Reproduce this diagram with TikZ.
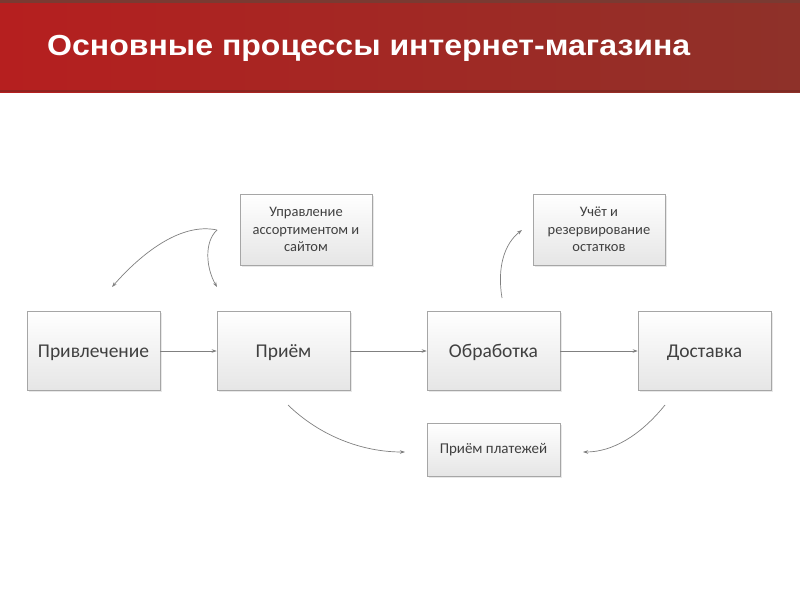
\documentclass[tikz,border=0pt]{standalone}
\usepackage{fontspec}
\setmainfont{Carlito}
\newfontfamily\titlefont{Liberation Sans}
\usetikzlibrary{arrows.meta,shadows}
\definecolor{hdrL}{HTML}{B61F1F}
\definecolor{hdrR}{HTML}{8E3129}
\definecolor{hdrTop}{HTML}{7A3A32}
\definecolor{boxline}{HTML}{A6A6A6}
\definecolor{boxtext}{HTML}{404040}
\definecolor{arr}{HTML}{808080}
\tikzset{
  basebox/.style={draw=boxline, line width=0.6pt, top color=white, bottom color=black!10,
    inner sep=0pt, text=boxtext, align=center,
    drop shadow={shadow xshift=1.5pt, shadow yshift=-1.5pt, opacity=0.18}},
  procbox/.style={basebox, minimum width=133pt, minimum height=79pt,
    font=\fontsize{19.5}{22}\selectfont, text height=14pt, text depth=2pt},
  smallbox/.style={basebox, minimum width=132pt, minimum height=71pt,
    font=\fontsize{14.5}{17.5}\selectfont},
  flow/.style={draw=arr, line width=0.7pt, -{Stealth[length=5pt,width=3.5pt]}},
}
\begin{document}
\begin{tikzpicture}[x=1pt,y=-1pt]
\useasboundingbox (0,0) rectangle (800,600);
\fill[white] (0,0) rectangle (800,600);
% header
\shade[left color=hdrL, right color=hdrR] (0,0) rectangle (800,92);
\fill[hdrTop] (0,0) rectangle (800,3);
\fill[hdrR!80!black, opacity=0.5] (0,90) rectangle (800,92);
\node[anchor=west, text=white, font=\titlefont\bfseries\fontsize{29}{32}\selectfont, inner sep=0pt] (title) at (47,48) {\scalebox{1.105}[1]{Основные процессы интернет-магазина}};
% main boxes
\node[procbox] (attr) at (93.5,351) {Привлечение};
\node[procbox] (recv) at (283.5,351) {Приём};
\node[procbox] (proc) at (493.5,351) {Обработка};
\node[procbox] (deliv) at (704.5,351) {Доставка};
\node[smallbox] (mgmt) at (306,229.5) {Управление\\ассортиментом и\\сайтом};
\node[smallbox] (stock) at (599,229.5) {Учёт и\\резервирование\\остатков};
\node[smallbox, minimum width=133pt, minimum height=53pt, font=\fontsize{15}{18}\selectfont] (pay) at (493.5,449.5) {Приём платежей};
% straight arrows
\draw[flow] (attr) -- (recv);
\draw[flow] (recv) -- (proc);
\draw[flow] (proc) -- (deliv);
% curved arrows
\coordinate (m0) at (217,230);
\coordinate (m1) at (112,287);
\coordinate (m2) at (217,287);
\coordinate (s0) at (502,298);
\coordinate (s1) at (522,230);
\coordinate (p0) at (288,405);
\coordinate (p1) at (405,452);
\coordinate (q0) at (665,405);
\coordinate (q1) at (583,452);
\draw[flow] (m0) .. controls (180,222) and (140,255) .. (m1);
\draw[flow] (m0) .. controls (204,242) and (206,268) .. (m2);
\draw[flow] (s0) .. controls (497,268) and (504,244) .. (s1);
\draw[flow] (p0) .. controls (320,436) and (362,452) .. (p1);
\draw[flow] (q0) .. controls (640,436) and (612,452) .. (q1);
\end{tikzpicture}
\end{document}
